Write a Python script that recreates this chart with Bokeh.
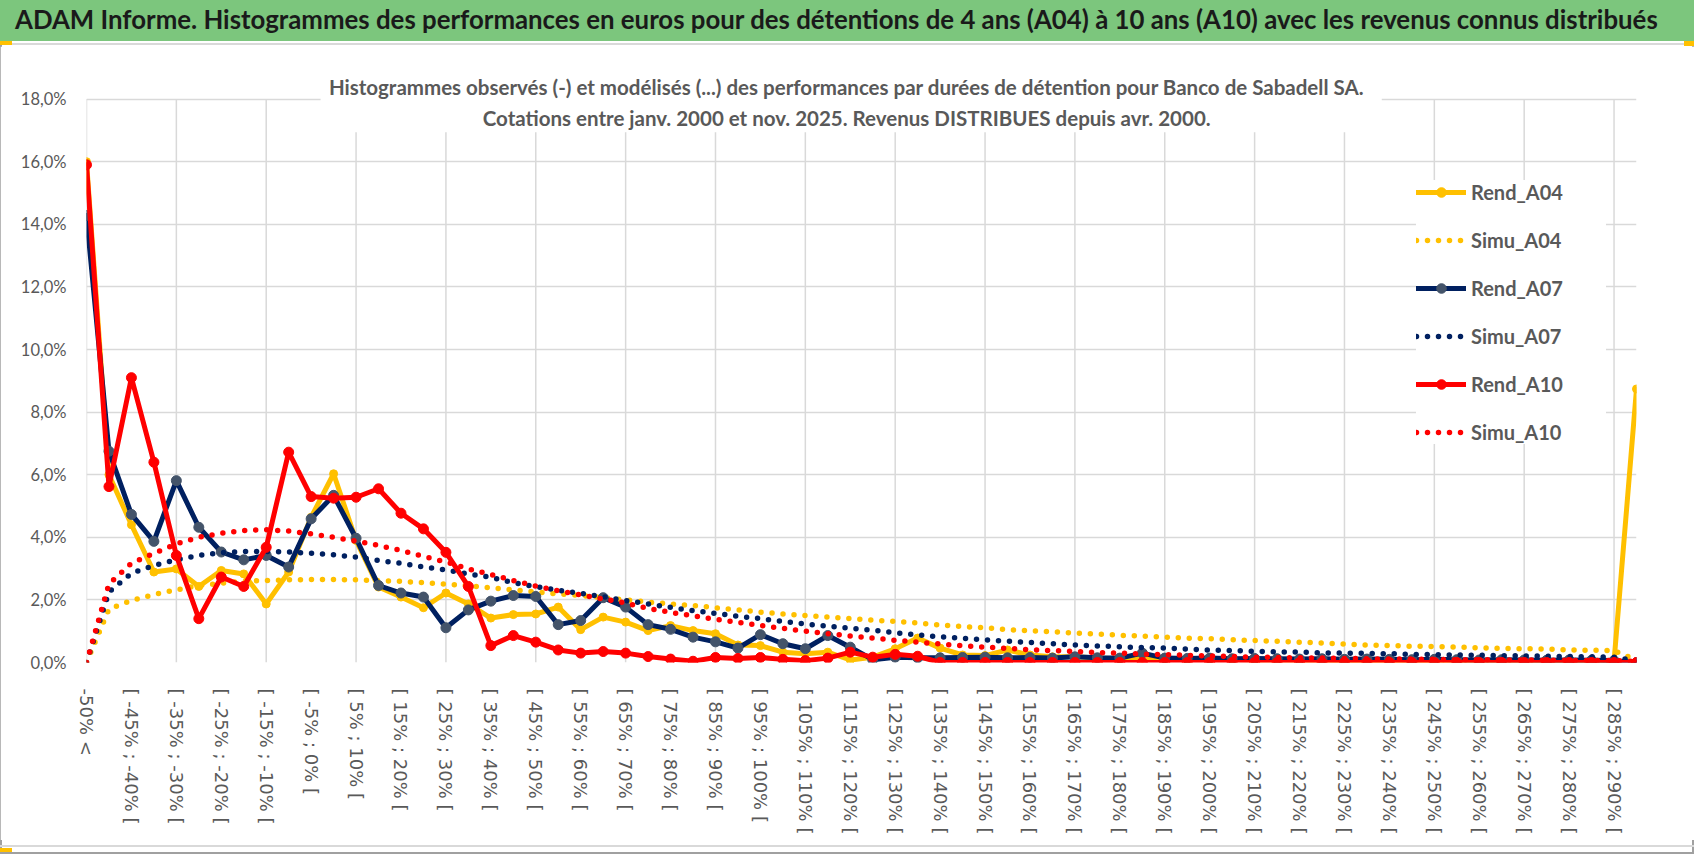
from bokeh.plotting import figure
from bokeh.models import (Range1d, FixedTicker, CustomJSTickFormatter, Legend, LegendItem,
                          Label, ColumnDataSource, BoxAnnotation, Div)
from bokeh.layouts import column
from bokeh.embed import file_html
from bokeh.resources import INLINE

TITLE = ("ADAM Informe. Histogrammes des performances en euros pour des détentions de 4 ans (A04) "
         "à 10 ans (A10) avec les revenus connus distribués")
SUBTITLE_1 = ("Histogrammes observés (-) et modélisés (...) des performances par durées de détention "
              "pour Banco de Sabadell SA.")
SUBTITLE_2 = "Cotations entre janv. 2000 et nov. 2025. Revenus DISTRIBUES depuis avr. 2000."

categories = [
    "-50% <", "[ -50% ; -45% [", "[ -45% ; -40% [", "[ -40% ; -35% [", "[ -35% ; -30% [",
    "[ -30% ; -25% [", "[ -25% ; -20% [", "[ -20% ; -15% [", "[ -15% ; -10% [", "[ -10% ; -5% [",
    "[ -5% ; 0% [", "[ 0% ; 5% [", "[ 5% ; 10% [", "[ 10% ; 15% [", "[ 15% ; 20% [",
    "[ 20% ; 25% [", "[ 25% ; 30% [", "[ 30% ; 35% [", "[ 35% ; 40% [", "[ 40% ; 45% [",
    "[ 45% ; 50% [", "[ 50% ; 55% [", "[ 55% ; 60% [", "[ 60% ; 65% [", "[ 65% ; 70% [",
    "[ 70% ; 75% [", "[ 75% ; 80% [", "[ 80% ; 85% [", "[ 85% ; 90% [", "[ 90% ; 95% [",
    "[ 95% ; 100% [", "[ 100% ; 105% [", "[ 105% ; 110% [", "[ 110% ; 115% [", "[ 115% ; 120% [",
    "[ 120% ; 125% [", "[ 125% ; 130% [", "[ 130% ; 135% [", "[ 135% ; 140% [", "[ 140% ; 145% [",
    "[ 145% ; 150% [", "[ 150% ; 155% [", "[ 155% ; 160% [", "[ 160% ; 165% [", "[ 165% ; 170% [",
    "[ 170% ; 175% [", "[ 175% ; 180% [", "[ 180% ; 185% [", "[ 185% ; 190% [", "[ 190% ; 195% [",
    "[ 195% ; 200% [", "[ 200% ; 205% [", "[ 205% ; 210% [", "[ 210% ; 215% [", "[ 215% ; 220% [",
    "[ 220% ; 225% [", "[ 225% ; 230% [", "[ 230% ; 235% [", "[ 235% ; 240% [", "[ 240% ; 245% [",
    "[ 245% ; 250% [", "[ 250% ; 255% [", "[ 255% ; 260% [", "[ 260% ; 265% [", "[ 265% ; 270% [",
    "[ 270% ; 275% [", "[ 275% ; 280% [", "[ 280% ; 285% [", "[ 285% ; 290% [", "> 290%",
]

# values in percent
rend_a04 = [
    16.0, 6.0, 4.4, 2.89, 2.99, 2.43, 2.94, 2.83, 1.87, 2.89,
    4.64, 6.03, 3.90, 2.41, 2.09, 1.75, 2.22, 1.87, 1.42, 1.53,
    1.55, 1.77, 1.05, 1.45, 1.29, 1.02, 1.18, 1.02, 0.92, 0.56,
    0.54, 0.33, 0.28, 0.33, 0.08, 0.17, 0.44, 0.78, 0.46, 0.24,
    0.22, 0.40, 0.24, 0.18, 0.18, 0.14, 0.12, 0.14, 0.12, 0.10,
    0.10, 0.10, 0.08, 0.08, 0.07, 0.07, 0.06, 0.06, 0.05, 0.06,
    0.05, 0.05, 0.04, 0.05, 0.04, 0.04, 0.03, 0.04, 0.03, 8.74,
]
simu_a04 = [
    0.0, 1.71, 1.98, 2.17, 2.32, 2.46, 2.53, 2.60, 2.62, 2.64,
    2.65, 2.65, 2.64, 2.62, 2.59, 2.55, 2.50, 2.45, 2.39, 2.32,
    2.25, 2.19, 2.14, 2.07, 2.00, 1.93, 1.87, 1.82, 1.75, 1.68,
    1.61, 1.55, 1.50, 1.45, 1.40, 1.35, 1.31, 1.26, 1.20, 1.15,
    1.11, 1.05, 1.01, 0.98, 0.94, 0.91, 0.87, 0.84, 0.81, 0.78,
    0.76, 0.73, 0.70, 0.68, 0.65, 0.62, 0.59, 0.56, 0.54, 0.52,
    0.51, 0.49, 0.47, 0.45, 0.44, 0.43, 0.40, 0.39, 0.38, 0.08,
]
rend_a07 = [
    14.28, 6.75, 4.73, 3.87, 5.81, 4.32, 3.53, 3.28, 3.42, 3.05,
    4.59, 5.34, 3.97, 2.46, 2.22, 2.09, 1.11, 1.68, 1.96, 2.14,
    2.11, 1.21, 1.34, 2.07, 1.77, 1.21, 1.06, 0.81, 0.66, 0.46,
    0.89, 0.60, 0.44, 0.86, 0.49, 0.09, 0.17, 0.15, 0.15, 0.16,
    0.17, 0.15, 0.16, 0.14, 0.18, 0.15, 0.14, 0.30, 0.14, 0.13,
    0.14, 0.12, 0.13, 0.12, 0.11, 0.12, 0.10, 0.11, 0.10, 0.09,
    0.10, 0.09, 0.08, 0.09, 0.08, 0.07, 0.08, 0.07, 0.06, 0.0,
]
simu_a07 = [
    0.0, 2.25, 2.85, 3.10, 3.28, 3.42, 3.51, 3.55, 3.55, 3.53,
    3.49, 3.44, 3.37, 3.26, 3.17, 3.05, 2.96, 2.83, 2.72, 2.55,
    2.42, 2.31, 2.21, 2.10, 1.98, 1.87, 1.76, 1.66, 1.57, 1.48,
    1.40, 1.31, 1.23, 1.16, 1.09, 1.03, 0.95, 0.88, 0.82, 0.77,
    0.72, 0.68, 0.64, 0.60, 0.56, 0.53, 0.50, 0.48, 0.46, 0.43,
    0.40, 0.38, 0.36, 0.34, 0.33, 0.31, 0.30, 0.29, 0.28, 0.26,
    0.25, 0.24, 0.23, 0.22, 0.21, 0.20, 0.19, 0.18, 0.17, 0.05,
]
rend_a10 = [
    15.9, 5.62, 9.10, 6.40, 3.42, 1.40, 2.73, 2.43, 3.68, 6.72,
    5.30, 5.25, 5.28, 5.55, 4.77, 4.27, 3.52, 2.43, 0.54, 0.86,
    0.65, 0.40, 0.30, 0.35, 0.30, 0.19, 0.11, 0.04, 0.16, 0.13,
    0.16, 0.10, 0.06, 0.14, 0.33, 0.17, 0.26, 0.20, 0.0, 0.0,
    0.0, 0.0, 0.0, 0.0, 0.0, 0.0, 0.0, 0.0, 0.0, 0.0,
    0.0, 0.0, 0.0, 0.0, 0.0, 0.0, 0.0, 0.0, 0.0, 0.0,
    0.0, 0.0, 0.0, 0.0, 0.0, 0.0, 0.0, 0.0, 0.0, 0.0,
]
simu_a10 = [
    0.0, 2.51, 3.17, 3.49, 3.79, 4.00, 4.13, 4.22, 4.24, 4.20,
    4.11, 4.00, 3.88, 3.74, 3.58, 3.39, 3.21, 2.99, 2.81, 2.62,
    2.44, 2.29, 2.16, 2.03, 1.90, 1.73, 1.60, 1.49, 1.38, 1.28,
    1.18, 1.09, 1.00, 0.92, 0.85, 0.78, 0.71, 0.65, 0.59, 0.54,
    0.49, 0.45, 0.41, 0.38, 0.35, 0.32, 0.30, 0.27, 0.25, 0.23,
    0.21, 0.19, 0.17, 0.16, 0.15, 0.14, 0.13, 0.12, 0.11, 0.11,
    0.10, 0.09, 0.09, 0.08, 0.08, 0.07, 0.07, 0.06, 0.06, 0.03,
]

y_ticks = [0, 2, 4, 6, 8, 10, 12, 14, 16, 18]
x_label_ticks = list(range(0, len(categories), 2))
x_grid_ticks = list(range(0, len(categories), 4))

YELLOW = "#FFC000"
NAVY = "#002060"
NAVY_MARKER = "#44546A"
RED = "#FF0000"
GREEN = "#7CC67D"
GRID = "#D9D9D9"
TEXT_GRAY = "#595959"
FRAME_GRAY = "#A0A0A0"

W = 1694

# ---------------- header band (HTML) ----------------
header_html = (
    f'<div style="width:{W}px;height:41px;background:{GREEN};box-sizing:border-box;'
    f'padding-left:15px;font-family:Lato;font-weight:bold;font-size:25.8px;line-height:39px;'
    f'color:#1a1a1a;white-space:nowrap;overflow:hidden;">{TITLE}</div>'
    f'<div style="display:flex;width:{W}px;height:5px;">'
    f'<div style="width:12px;height:4px;background:{YELLOW};"></div>'
    f'<div style="flex:1;height:2px;margin-top:2px;background:{GRID};"></div>'
    f'<div style="width:10px;height:5px;background:{YELLOW};"></div>'
    f'</div>'
)
header = Div(text=header_html, width=W, height=46, margin=0)

footer_html = (
    f'<div style="width:{W}px;height:2px;background:{GRID};"></div>'
    f'<div style="width:12px;height:4px;margin-top:1px;background:{YELLOW};"></div>'
)
footer = Div(text=footer_html, width=W, height=14, margin=0)

# ---------------- main chart ----------------
idx = list(range(len(categories)))
src = ColumnDataSource(dict(x=idx, rend_a04=rend_a04, simu_a04=simu_a04, rend_a07=rend_a07,
                            simu_a07=simu_a07, rend_a10=rend_a10, simu_a10=simu_a10))

FRAME_H = 602
PX_PER_PCT = 31.3
p = figure(width=W, height=794, x_range=Range1d(0, len(categories) - 1),
           y_range=Range1d(0, FRAME_H / PX_PER_PCT),
           toolbar_location=None, output_backend="svg", margin=0,
           min_border_left=86, min_border_right=58, min_border_top=14, min_border_bottom=178,
           background_fill_color="white", border_fill_color="white", outline_line_color=None)

p.xaxis.ticker = FixedTicker(ticks=x_label_ticks)
p.xaxis.major_label_overrides = {i: categories[i] for i in x_label_ticks}
p.xaxis.major_label_orientation = "vertical"
p.xaxis.major_label_text_font = "DejaVu Sans"
p.xaxis.major_label_text_font_size = "18px"
p.xaxis.major_label_text_color = TEXT_GRAY
p.xaxis.major_label_standoff = 20
p.xaxis.axis_line_color = None
p.xaxis.major_tick_line_color = None
p.xaxis.minor_tick_line_color = None

p.yaxis.ticker = FixedTicker(ticks=y_ticks)
p.yaxis.formatter = CustomJSTickFormatter(code="return tick.toFixed(1).replace('.', ',') + '%';")
p.yaxis.major_label_text_font = "Lato"
p.yaxis.major_label_text_font_size = "16.5px"
p.yaxis.major_label_text_color = TEXT_GRAY
p.yaxis.major_label_standoff = 14
p.yaxis.axis_line_color = None
p.yaxis.major_tick_line_color = None
p.yaxis.minor_tick_line_color = None

# horizontal gridlines from the y ticker; vertical gridlines stop at the top tick
p.xgrid.visible = False
p.ygrid.grid_line_color = GRID
p.ygrid.grid_line_width = 1.5
p.segment(x0=x_grid_ticks, y0=[y_ticks[0]] * len(x_grid_ticks),
          x1=x_grid_ticks, y1=[y_ticks[-1]] * len(x_grid_ticks),
          line_color=GRID, line_width=1.5, level="underlay")

series = [
    ("Rend_A04", "rend_a04", YELLOW, False, YELLOW, 8),
    ("Simu_A04", "simu_a04", YELLOW, True, None, 0),
    ("Rend_A07", "rend_a07", NAVY, False, NAVY_MARKER, 10),
    ("Simu_A07", "simu_a07", NAVY, True, None, 0),
    ("Rend_A10", "rend_a10", RED, False, RED, 10),
    ("Simu_A10", "simu_a10", RED, True, None, 0),
]

items = []
for name, col, color, dotted, mcolor, msize in series:
    if dotted:
        r = p.line("x", col, source=src, line_color=color, line_width=5.5,
                   line_dash="0 11", line_cap="round", line_join="round")
        items.append(LegendItem(label=name, renderers=[r]))
    else:
        r = p.line("x", col, source=src, line_color=color, line_width=5,
                   line_join="round", line_cap="round")
        m = p.scatter("x", col, source=src, marker="circle", size=msize,
                      fill_color=mcolor, line_color=mcolor)
        items.append(LegendItem(label=name, renderers=[r, m]))

# chart title box (white, over the grid) and its two lines
p.add_layout(BoxAnnotation(left=10.42, right=57.66, bottom=16.94, top=19.0,
                           fill_color="white", fill_alpha=1, line_color=None))
p.add_layout(Label(x=33.84, y=18.38, x_units="data", y_units="data", text=SUBTITLE_1,
                   text_font="Lato", text_font_style="bold", text_font_size="20.5px",
                   text_color=TEXT_GRAY, text_align="center", text_baseline="middle"))
p.add_layout(Label(x=33.84, y=17.41, x_units="data", y_units="data", text=SUBTITLE_2,
                   text_font="Lato", text_font_style="bold", text_font_size="20.5px",
                   text_color=TEXT_GRAY, text_align="center", text_baseline="middle"))

legend = Legend(items=items, location=(1330, 218), orientation="vertical",
                glyph_width=50, glyph_height=24, label_height=24, label_width=135,
                label_standoff=5, spacing=24, padding=10, margin=0,
                label_text_font="Lato", label_text_font_style="bold",
                label_text_font_size="20px", label_text_color=TEXT_GRAY,
                border_line_color=None, background_fill_color="white",
                background_fill_alpha=1)
p.add_layout(legend)

layout = column(header, p, footer, spacing=0, margin=0,
                styles={"outline": f"2px solid {FRAME_GRAY}", "outline-offset": "-2px"})
open("out.html", "w", encoding="utf-8").write(file_html(layout, INLINE))
